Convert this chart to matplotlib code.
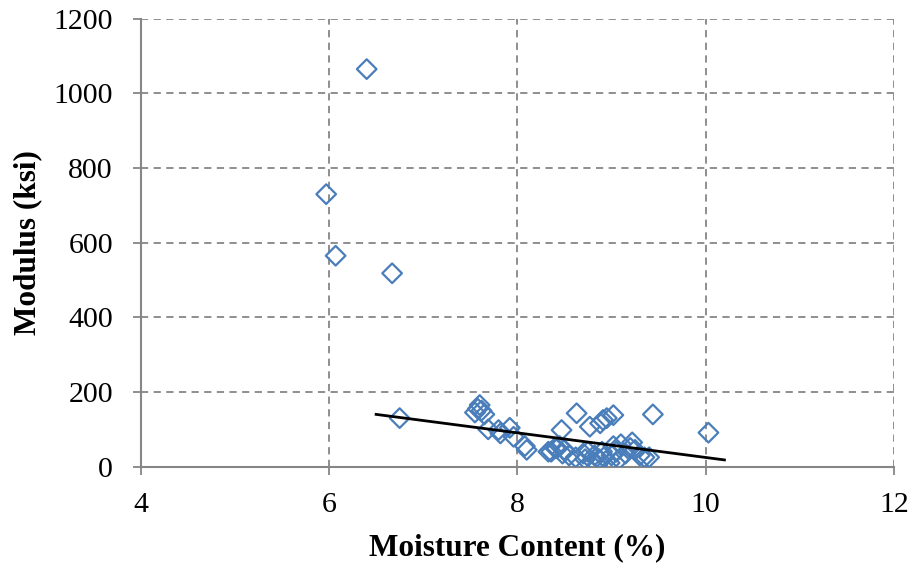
import numpy as np
import matplotlib
matplotlib.use("Agg")
import matplotlib.pyplot as plt

# Moisture content (%) and modulus (ksi)
moisture = [6.40, 5.97, 6.07, 6.67, 6.75,
            7.55, 7.60, 7.62, 7.65, 7.58, 7.69, 7.80, 7.82, 7.92, 7.96, 8.08, 8.10,
            8.63, 8.47, 8.36, 8.42, 8.77, 8.88, 8.91, 8.95, 9.02, 9.44, 10.03,
            8.33, 8.40, 8.45, 8.48, 8.50, 8.55, 8.62, 8.70, 8.72, 8.75,
            8.80, 8.82, 8.85, 8.87, 8.90, 8.92, 8.98, 9.00, 9.02, 9.05,
            9.08, 9.10, 9.15, 9.20, 9.22, 9.25, 9.30, 9.35, 9.40]
modulus = [1065, 730, 565, 518, 130,
           145, 165, 150, 140, 155, 100, 98, 89, 104, 80, 55, 45,
           143, 98, 40, 49, 107, 116, 125, 130, 138, 140, 91,
           40, 50, 55, 35, 45, 30, 25, 35, 20, 40,
           15, 30, 5, 20, 40, 25, 10, 30, 55, 40,
           20, 60, 35, 50, 65, 45, 30, 25, 25]

# trend line end points
trend_x = [6.5, 10.2]
trend_y = [140, 18]

plt.rcParams['font.family'] = ['Liberation Serif', 'DejaVu Serif']

fig = plt.figure(figsize=(9.14, 5.67), dpi=100)
ax = fig.add_axes([0.154, 0.177, 0.824, 0.790])

grid_c = "#868686"
ax.scatter(moisture, modulus, marker="D", s=100, facecolors="none",
           edgecolors="#4a7ebb", linewidths=1.6, zorder=3)
ax.plot(trend_x, trend_y, color="black", lw=2, zorder=4)

ax.set_xlim(4, 12)
ax.set_ylim(0, 1200)
ax.set_xticks([4, 6, 8, 10, 12])
ax.set_yticks(np.arange(0, 1201, 200))
ax.grid(True, ls=(0, (4, 3)), color=grid_c, lw=1.3)
ax.set_axisbelow(True)

for s in ["top", "right"]:
    ax.spines[s].set_visible(False)
for s in ["left", "bottom"]:
    ax.spines[s].set_color(grid_c)
    ax.spines[s].set_linewidth(1.5)
ax.tick_params(direction="out", length=6, color=grid_c, width=1.3,
               labelsize=21.5)
ax.tick_params(axis="y", pad=14)
ax.tick_params(axis="x", pad=12.5)

ax.set_xlabel("Moisture Content (%)", fontsize=22.5, fontweight="bold", labelpad=11)
ax.set_ylabel("Modulus (ksi)", fontsize=22.5, fontweight="bold", labelpad=8)

fig.savefig("out.png", dpi=100)
